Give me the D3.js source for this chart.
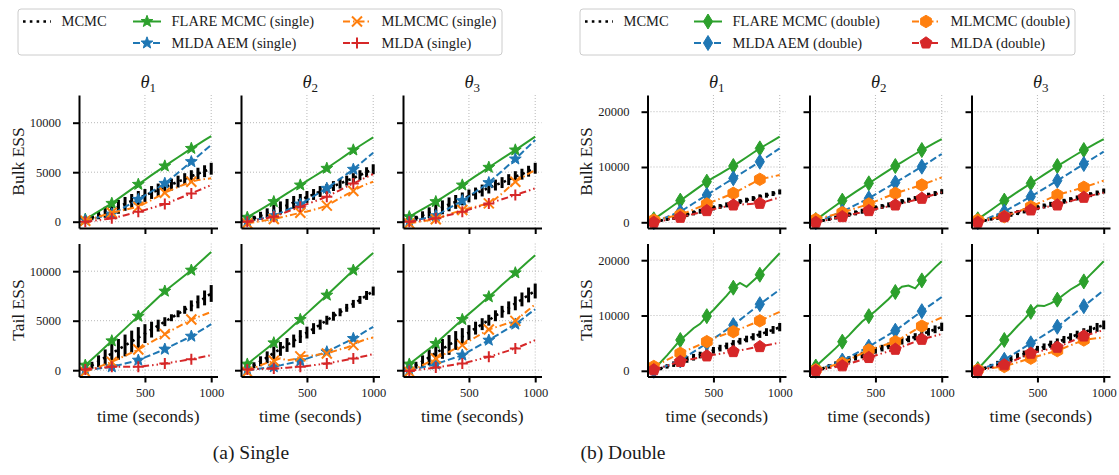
<!DOCTYPE html>
<html>
<head>
<meta charset="utf-8">
<script src="https://cdn.jsdelivr.net/npm/d3@7"></script>
<style>
body { margin: 0; background: #fff; }
svg { display: block; }
text { font-family: "Liberation Serif", "DejaVu Serif", serif; fill: #1a1a1a; }
</style>
</head>
<body>
<svg id="chart" width="1119" height="475" font-family="Liberation Serif, DejaVu Serif, serif"></svg>
<script>
var times = [50, 100, 150, 200, 250, 300, 350, 400, 450, 500, 550, 600, 650, 700, 750, 800, 850, 900, 950, 1000];
var markerTimes = [50, 250, 450, 650, 850];
var thetaLabels = ["1", "2", "3"];
var xTicks = [500, 1000];
var singleYTicks = [0, 5000, 10000];
var doubleYTicks = [0, 10000, 20000];
var rowNames = ["Bulk ESS", "Tail ESS"];
var methodNames = ["MCMC", "FLARE MCMC", "MLDA AEM", "MLMCMC", "MLDA"];
var captions = ["(a) Single", "(b) Double"];

// ---- single precision, bulk ESS (one row per theta) ----
var mcmcSingleBulk = [
    [150, 400, 650, 950, 1250, 1500, 1800, 2100, 2400, 2650, 2950, 3200, 3500, 3750, 4050, 4300, 4600, 4850, 5100, 5350],
    [100, 350, 600, 850, 1100, 1400, 1650, 1950, 2200, 2500, 2750, 3050, 3300, 3600, 3850, 4150, 4400, 4700, 5000, 5300],
    [100, 350, 650, 900, 1200, 1450, 1750, 2000, 2300, 2600, 2850, 3150, 3400, 3700, 3950, 4250, 4550, 4800, 5100, 5400]];
var mcmcErrSingleBulk = [
    [100, 250, 400, 550, 650, 700, 700, 700, 700, 650, 650, 650, 600, 600, 600, 600, 600, 600, 600, 600],
    [100, 250, 400, 500, 600, 650, 650, 650, 600, 600, 550, 550, 500, 500, 500, 500, 500, 500, 500, 500],
    [100, 250, 400, 550, 650, 700, 700, 700, 650, 650, 600, 600, 550, 550, 550, 550, 550, 550, 550, 550]];
var flareSingleBulk = [
    [240, 640, 1050, 1450, 1850, 2330, 2810, 3290, 3770, 4230, 4700, 5160, 5620, 6060, 6510, 6950, 7400, 7820, 8240, 8650],
    [440, 830, 1230, 1620, 2020, 2440, 2860, 3280, 3700, 4120, 4540, 4960, 5390, 5850, 6310, 6770, 7240, 7670, 8100, 8520],
    [500, 880, 1260, 1640, 2020, 2440, 2860, 3280, 3700, 4150, 4600, 5040, 5490, 5930, 6370, 6800, 7240, 7690, 8140, 8590]];
var aemSingleBulk = [
    [170, 300, 450, 600, 770, 1130, 1500, 1870, 2250, 2650, 3050, 3450, 3870, 4400, 4950, 5500, 6060, 6620, 7180, 7740],
    [0, 150, 300, 450, 600, 890, 1180, 1480, 1780, 2170, 2570, 2970, 3370, 3850, 4320, 4800, 5290, 5850, 6410, 6970],
    [0, 150, 300, 450, 600, 980, 1360, 1740, 2120, 2570, 3030, 3480, 3940, 4540, 5130, 5730, 6330, 6970, 7610, 8250]];
var mlmcmcSingleBulk = [
    [100, 300, 500, 700, 900, 1050, 1200, 1350, 1500, 1850, 2200, 2550, 2930, 3220, 3500, 3780, 4040, 4200, 4300, 4380],
    [-170, -60, 50, 160, 270, 420, 580, 740, 900, 1040, 1200, 1400, 1620, 2000, 2400, 2750, 3100, 3500, 3800, 4040],
    [-170, -50, 60, 150, 240, 500, 750, 970, 1180, 1350, 1520, 1690, 1850, 2300, 2850, 3450, 4040, 4450, 4850, 5220]];
var mldaSingleBulk = [
    [0, 80, 170, 250, 340, 500, 660, 830, 1000, 1190, 1390, 1580, 1780, 2050, 2320, 2590, 2860, 3140, 3420, 3700],
    [0, 120, 250, 380, 500, 750, 1000, 1260, 1520, 1770, 2020, 2270, 2530, 2870, 3200, 3540, 3870, 4180, 4500, 4810],
    [0, 80, 170, 250, 340, 500, 670, 840, 1010, 1220, 1420, 1630, 1850, 2060, 2270, 2480, 2690, 2920, 3140, 3370]];

// ---- single precision, tail ESS ----
var mcmcSingleTail = [
    [150, 500, 900, 1300, 1700, 2100, 2500, 2900, 3300, 3700, 4100, 4500, 4900, 5300, 5700, 6100, 6500, 6900, 7300, 7750],
    [100, 500, 900, 1300, 1750, 2150, 2550, 2950, 3400, 3800, 4200, 4600, 5050, 5450, 5850, 6300, 6700, 7100, 7550, 8000],
    [100, 500, 900, 1300, 1750, 2150, 2550, 3000, 3400, 3800, 4250, 4650, 5050, 5500, 5900, 6300, 6750, 7150, 7600, 8000]];
var mcmcErrSingleTail = [
    [100, 350, 600, 800, 950, 1050, 1100, 1100, 1050, 950, 800, 600, 450, 350, 350, 400, 550, 650, 750, 850],
    [100, 300, 500, 600, 650, 700, 700, 650, 650, 600, 550, 500, 450, 450, 400, 400, 400, 400, 450, 450],
    [100, 350, 600, 800, 950, 1000, 1000, 950, 850, 750, 650, 600, 550, 550, 600, 650, 700, 700, 750, 750]];
var flareSingleTail = [
    [500, 1110, 1720, 2340, 2960, 3580, 4200, 4830, 5450, 6080, 6710, 7340, 7980, 8510, 9040, 9570, 10100, 10720, 11340, 11950],
    [610, 1150, 1680, 2220, 2760, 3350, 3940, 4530, 5120, 5740, 6350, 6970, 7580, 8210, 8840, 9470, 10100, 10680, 11270, 11850],
    [610, 1130, 1650, 2170, 2690, 3300, 3900, 4510, 5120, 5690, 6260, 6840, 7410, 8010, 8620, 9220, 9830, 10430, 11020, 11620]];
var aemSingleTail = [
    [0, 80, 170, 250, 340, 500, 670, 840, 1010, 1290, 1570, 1840, 2120, 2450, 2780, 3100, 3430, 3840, 4240, 4650],
    [0, 80, 170, 250, 340, 490, 640, 790, 940, 1170, 1400, 1620, 1850, 2190, 2530, 2860, 3200, 3590, 3990, 4380],
    [0, 150, 300, 460, 610, 840, 1070, 1290, 1520, 1900, 2280, 2650, 3030, 3440, 3840, 4250, 4650, 5150, 5660, 6160]];
var mlmcmcSingleTail = [
    [-170, 80, 330, 590, 840, 1150, 1460, 1780, 2090, 2480, 2870, 3250, 3640, 4010, 4380, 4750, 5120, 5370, 5630, 5890],
    [-170, 200, 500, 750, 950, 1200, 1000, 1100, 1400, 1450, 1500, 1600, 1680, 1900, 2100, 2300, 2530, 2900, 3150, 3300],
    [-170, 150, 500, 850, 1180, 1520, 1850, 2200, 2530, 2930, 3330, 3720, 4110, 4330, 4550, 4770, 4980, 5550, 6100, 6670]];
var mldaSingleTail = [
    [70, 140, 210, 280, 340, 340, 340, 340, 340, 420, 500, 580, 670, 780, 890, 1000, 1110, 1250, 1380, 1520],
    [70, 100, 120, 150, 170, 210, 250, 300, 340, 420, 510, 590, 670, 800, 920, 1050, 1180, 1330, 1470, 1620],
    [-70, 10, 100, 180, 270, 370, 470, 570, 670, 840, 1010, 1180, 1350, 1560, 1770, 1980, 2190, 2470, 2750, 3030]];

// ---- double precision, bulk ESS ----
var mcmcDoubleBulk = [
    [0, 300, 550, 850, 1150, 1400, 1700, 2000, 2300, 2600, 2850, 3150, 3450, 3750, 4000, 4300, 4600, 4900, 5200, 5500],
    [0, 300, 550, 850, 1150, 1400, 1700, 2000, 2300, 2600, 2850, 3150, 3450, 3750, 4000, 4300, 4600, 4900, 5200, 5550],
    [0, 300, 600, 850, 1150, 1450, 1750, 2050, 2350, 2650, 2950, 3250, 3500, 3800, 4100, 4400, 4700, 5000, 5300, 5650]];
var mcmcErrDoubleBulk = [
    [50, 200, 300, 400, 400, 450, 450, 450, 450, 450, 450, 450, 450, 450, 450, 450, 450, 450, 450, 450],
    [50, 200, 300, 350, 400, 400, 450, 450, 450, 450, 450, 450, 450, 450, 450, 450, 450, 450, 450, 450],
    [50, 200, 300, 400, 400, 450, 450, 450, 450, 450, 450, 450, 450, 450, 450, 450, 450, 450, 450, 450]];
var flareDoubleBulk = [
    [540, 1390, 2230, 3080, 3920, 4780, 5640, 6490, 7350, 8060, 8770, 9470, 10180, 10980, 11770, 12570, 13370, 14070, 14780, 15480],
    [420, 1300, 2170, 3050, 3920, 4700, 5490, 6270, 7050, 7830, 8620, 9400, 10180, 10900, 11630, 12350, 13070, 13730, 14400, 15060],
    [540, 1390, 2230, 3080, 3920, 4700, 5490, 6270, 7050, 7830, 8620, 9400, 10180, 10900, 11630, 12350, 13070, 13730, 14400, 15060]];
var aemDoubleBulk = [
    [0, 480, 970, 1450, 1930, 2680, 3440, 4190, 4940, 5690, 6450, 7200, 7950, 8700, 9460, 10210, 10960, 11760, 12570, 13370],
    [0, 480, 970, 1450, 1930, 2530, 3140, 3740, 4340, 5050, 5760, 6460, 7170, 7890, 8610, 9340, 10060, 10820, 11590, 12350],
    [0, 480, 970, 1450, 1930, 2610, 3290, 3960, 4640, 5360, 6090, 6810, 7530, 8280, 9030, 9790, 10540, 11280, 12030, 12770]];
var mlmcmcDoubleBulk = [
    [420, 650, 880, 1100, 1330, 1830, 2320, 2820, 3310, 3790, 4270, 4760, 5240, 5870, 6510, 7140, 7770, 8030, 8290, 8550],
    [540, 840, 1150, 1450, 1750, 2140, 2530, 2920, 3310, 3790, 4270, 4760, 5240, 5620, 6000, 6370, 6750, 7210, 7670, 8130],
    [420, 570, 720, 870, 1020, 1470, 1930, 2380, 2830, 3360, 3880, 4410, 4940, 5290, 5630, 5980, 6330, 6730, 7130, 7530]];
var mldaDoubleBulk = [
    [0, 230, 450, 680, 900, 1200, 1500, 1810, 2110, 2370, 2620, 2880, 3130, 3210, 3280, 3360, 3430, 3790, 4160, 4520],
    [0, 260, 510, 770, 1020, 1290, 1570, 1840, 2110, 2370, 2620, 2880, 3130, 3430, 3740, 4040, 4340, 4700, 5060, 5420],
    [0, 260, 510, 770, 1020, 1550, 1970, 2100, 2230, 2460, 2680, 2910, 3130, 3480, 3830, 4170, 4520, 4800, 5080, 5360]];

// ---- double precision, tail ESS ----
var mcmcDoubleTail = [
    [0, 400, 800, 1200, 1650, 2050, 2450, 2850, 3300, 3700, 4100, 4500, 4950, 5350, 5750, 6150, 6600, 7000, 7400, 7900],
    [0, 400, 800, 1200, 1650, 2050, 2450, 2850, 3300, 3700, 4100, 4500, 4950, 5350, 5750, 6150, 6600, 7050, 7500, 7950],
    [0, 450, 850, 1300, 1750, 2150, 2600, 3050, 3450, 3900, 4350, 4800, 5200, 5650, 6100, 6550, 6950, 7400, 7850, 8300]];
var mcmcErrDoubleTail = [
    [100, 300, 400, 500, 550, 600, 600, 600, 600, 600, 600, 600, 600, 600, 600, 650, 650, 700, 700, 750],
    [100, 300, 400, 500, 550, 600, 600, 600, 600, 600, 600, 600, 600, 600, 600, 650, 650, 700, 700, 750],
    [100, 300, 400, 500, 550, 600, 600, 600, 600, 600, 600, 650, 650, 650, 700, 700, 750, 750, 800, 800]];
var flareDoubleTail = [
    [300, 1500, 2800, 4200, 5570, 6600, 7700, 8500, 9880, 11000, 12300, 13600, 15030, 15900, 15200, 16300, 17370, 18700, 20000, 21260],
    [780, 1900, 3000, 4100, 5270, 6400, 7700, 8900, 9880, 10800, 11900, 13000, 14250, 15200, 15400, 14900, 16350, 17500, 18700, 19820],
    [300, 1600, 2900, 4200, 5570, 6800, 8100, 9300, 10660, 11800, 11700, 12200, 12870, 13800, 14700, 15400, 16170, 17400, 18600, 19820]];
var aemDoubleTail = [
    [0, 470, 930, 1400, 1860, 2640, 3420, 4190, 4970, 5790, 6610, 7440, 8260, 9210, 10150, 11100, 12040, 12920, 13790, 14670],
    [0, 470, 930, 1400, 1860, 2490, 3110, 3740, 4370, 5090, 5810, 6530, 7250, 8130, 9020, 9900, 10780, 11640, 12490, 13350],
    [0, 500, 990, 1490, 1980, 2730, 3480, 4220, 4970, 5720, 6460, 7210, 7960, 8890, 9820, 10750, 11680, 12640, 13590, 14550]];
var mlmcmcDoubleTail = [
    [780, 1380, 1980, 2570, 3170, 3700, 4220, 4750, 5270, 5900, 6300, 6700, 7070, 7560, 8060, 8550, 9040, 9580, 10120, 10660],
    [180, 480, 780, 1080, 1380, 1980, 2580, 3170, 3770, 4150, 4520, 4900, 5270, 5970, 6680, 7380, 8080, 8600, 9120, 9640],
    [180, 330, 480, 630, 780, 1160, 1530, 1910, 2280, 2620, 2970, 3310, 3650, 4130, 4610, 5090, 5570, 5730, 5890, 6050]];
var mldaDoubleTail = [
    [180, 560, 930, 1310, 1680, 1930, 2190, 2440, 2690, 2890, 3080, 3280, 3470, 3700, 3920, 4150, 4370, 4610, 4850, 5090],
    [0, 230, 450, 680, 900, 1280, 1650, 2030, 2400, 2770, 3150, 3520, 3890, 4340, 4790, 5240, 5690, 6010, 6330, 6650],
    [0, 270, 540, 810, 1080, 1600, 2130, 2650, 3170, 3440, 3710, 3980, 4250, 4760, 5270, 5780, 6290, 6650, 7010, 7370]];

// styles for FLARE, AEM, MLMCMC, MLDA
var colors = ["#2ca02c", "#1f77b4", "#ff7f0e", "#d62728"];
var dashes = [null, "7,3", "7,3,1.5,3", "7,3,1.5,3,1.5,3"];

var svg = d3.select("#chart");
var panelW = 138.5, panelH = 133;
var rowTop = [95, 243.5];
var serif = "'Liberation Serif', 'DejaVu Serif', serif";

var groups = [{
    lefts: [79, 241, 403],
    ylabX: 18,
    yDomain: [-636, 12798],
    yTicks: singleYTicks,
    markers: ["star", "star", "x", "plus"],
    suffix: " (single)",
    legend: { x: 18, w: 484, cols: [23, 133, 343] },
    caption: { x: 251 },
    rows: [
        { mcmc: mcmcSingleBulk, err: mcmcErrSingleBulk, lines: [flareSingleBulk, aemSingleBulk, mlmcmcSingleBulk, mldaSingleBulk] },
        { mcmc: mcmcSingleTail, err: mcmcErrSingleTail, lines: [flareSingleTail, aemSingleTail, mlmcmcSingleTail, mldaSingleTail] }
    ]
}, {
    lefts: [647.5, 809.5, 971.5],
    ylabX: 586,
    yDomain: [-1031, 23020],
    yTicks: doubleYTicks,
    markers: ["thinDiamond", "thinDiamond", "hexagon", "pentagon"],
    suffix: " (double)",
    legend: { x: 580, w: 495, cols: [585, 694, 912] },
    caption: { x: 623 },
    rows: [
        { mcmc: mcmcDoubleBulk, err: mcmcErrDoubleBulk, lines: [flareDoubleBulk, aemDoubleBulk, mlmcmcDoubleBulk, mldaDoubleBulk] },
        { mcmc: mcmcDoubleTail, err: mcmcErrDoubleTail, lines: [flareDoubleTail, aemDoubleTail, mlmcmcDoubleTail, mldaDoubleTail] }
    ]
}];

function polygon(n, r, rot) {
    var pts = [];
    for (var i = 0; i < n; i++) {
        var a = rot + i * 2 * Math.PI / n;
        pts.push([r * Math.cos(a), r * Math.sin(a)]);
    }
    return "M" + pts.join("L") + "Z";
}

function markerPath(kind) {
    if (kind == "star") {
        var pts = [];
        for (var i = 0; i < 10; i++) {
            var r = i % 2 ? 2.6 : 6.2;
            var a = -Math.PI / 2 + i * Math.PI / 5;
            pts.push([r * Math.cos(a), r * Math.sin(a)]);
        }
        return "M" + pts.join("L") + "Z";
    }
    if (kind == "thinDiamond") return "M0,-7.5L4.6,0L0,7.5L-4.6,0Z";
    if (kind == "x") return "M-5,-5L5,5M-5,5L5,-5";
    if (kind == "plus") return "M-5.5,0L5.5,0M0,-5.5L0,5.5";
    if (kind == "hexagon") return polygon(6, 6.2, -Math.PI / 2);
    if (kind == "pentagon") return polygon(5, 6.2, -Math.PI / 2);
}

function drawMarker(g, kind, color, cx, cy) {
    var stroked = (kind == "x" || kind == "plus");
    g.append("path")
        .attr("d", markerPath(kind))
        .attr("transform", "translate(" + cx + "," + cy + ")")
        .attr("fill", stroked ? "none" : color)
        .attr("stroke", color)
        .attr("stroke-width", stroked ? 2 : 1)
        .attr("stroke-linejoin", "miter");
}

var x = d3.scaleLinear().domain([2.5, 1047.5]).range([0, panelW]);

groups.forEach(function(grp, gi) {
    var y = d3.scaleLinear().domain(grp.yDomain).range([panelH, 0]);

    grp.rows.forEach(function(row, r) {
        // row label
        svg.append("text")
            .attr("transform", "translate(" + grp.ylabX + "," + (rowTop[r] + panelH / 2) + ") rotate(-90)")
            .attr("text-anchor", "middle")
            .attr("dy", "0.35em")
            .attr("font-size", 17.5)
            .text(rowNames[r]);

        for (var c = 0; c < 3; c++) {
            var g = svg.append("g").attr("transform", "translate(" + grp.lefts[c] + "," + rowTop[r] + ")");

            // grid
            g.selectAll(".gx").data(xTicks).enter().append("line")
                .attr("x1", function(d) { return x(d); }).attr("x2", function(d) { return x(d); })
                .attr("y1", 0).attr("y2", panelH)
                .attr("stroke", "#b0b0b0").attr("stroke-width", 0.9).attr("stroke-dasharray", "1,2");
            g.selectAll(".gy").data(grp.yTicks).enter().append("line")
                .attr("y1", function(d) { return y(d); }).attr("y2", function(d) { return y(d); })
                .attr("x1", 0).attr("x2", panelW)
                .attr("stroke", "#b0b0b0").attr("stroke-width", 0.9).attr("stroke-dasharray", "1,2");

            // MCMC error bars + dotted mean
            var mean = row.mcmc[c], err = row.err[c];
            g.selectAll(".eb").data(times).enter().append("line")
                .attr("x1", function(d) { return x(d); }).attr("x2", function(d) { return x(d); })
                .attr("y1", function(d, i) { return y(mean[i] - err[i]); })
                .attr("y2", function(d, i) { return y(mean[i] + err[i]); })
                .attr("stroke", "#000").attr("stroke-width", 3);
            g.append("path")
                .attr("d", d3.line().x(function(d) { return x(d); }).y(function(d, i) { return y(mean[i]); })(times))
                .attr("fill", "none").attr("stroke", "#000").attr("stroke-width", 2.6)
                .attr("stroke-dasharray", "2.6,4.2");

            // methods
            row.lines.forEach(function(vals, m) {
                var v = vals[c];
                var p = g.append("path")
                    .attr("d", d3.line().x(function(d) { return x(d); }).y(function(d, i) { return y(v[i]); })(times))
                    .attr("fill", "none").attr("stroke", colors[m]).attr("stroke-width", 2);
                if (dashes[m]) p.attr("stroke-dasharray", dashes[m]);
                markerTimes.forEach(function(t) {
                    var i = times.indexOf(t);
                    drawMarker(g, grp.markers[m], colors[m], x(t), y(v[i]));
                });
            });

            // axes
            var ay = g.append("g").call(d3.axisLeft(y).tickValues(grp.yTicks).tickSize(6).tickSizeOuter(0).tickPadding(12)
                .tickFormat(c == 0 ? d3.format("d") : function() { return ""; }));
            var ax = g.append("g").attr("transform", "translate(0," + panelH + ")")
                .call(d3.axisBottom(x).tickValues(xTicks).tickSize(6).tickSizeOuter(0).tickPadding(6)
                    .tickFormat(r == 1 ? d3.format("d") : function() { return ""; }));
            [ay, ax].forEach(function(a) {
                a.attr("font-family", serif).attr("font-size", 12.5);
                a.select(".domain").attr("stroke", "#000").attr("stroke-width", 2);
                a.selectAll(".tick line").attr("stroke", "#000").attr("stroke-width", 2);
                a.selectAll(".tick text").attr("fill", "#1a1a1a");
            });

            // titles / x labels
            if (r == 0) {
                var tt = svg.append("text")
                    .attr("x", grp.lefts[c] + panelW / 2).attr("y", 88)
                    .attr("text-anchor", "middle").attr("font-size", 18.5);
                tt.append("tspan").attr("font-style", "italic").text("\u03b8");
                tt.append("tspan").attr("dy", 4).attr("font-size", 13).text(thetaLabels[c]);
            } else {
                svg.append("text")
                    .attr("x", grp.lefts[c] + x(525)).attr("y", 422)
                    .attr("text-anchor", "middle").attr("font-size", 17.5)
                    .text("time (seconds)");
            }
        }
    });

    // legend
    var L = grp.legend;
    svg.append("rect").attr("x", L.x).attr("y", 9).attr("width", L.w).attr("height", 46)
        .attr("rx", 3).attr("fill", "#fff").attr("stroke", "#cccccc").attr("stroke-width", 1);
    var slots = [[0, 0], [1, 0], [1, 1], [2, 0], [2, 1]];
    methodNames.forEach(function(name, k) {
        var hx = L.cols[slots[k][0]], hy = slots[k][1] == 0 ? 21.5 : 43;
        var lg = svg.append("g");
        if (k == 0) {
            lg.append("line").attr("x1", hx).attr("x2", hx + 28).attr("y1", hy).attr("y2", hy)
                .attr("stroke", "#000").attr("stroke-width", 2.6).attr("stroke-dasharray", "2.6,4.2");
        } else {
            var m = k - 1;
            var ln = lg.append("line").attr("x1", hx).attr("x2", hx + 28).attr("y1", hy).attr("y2", hy)
                .attr("stroke", colors[m]).attr("stroke-width", 2);
            if (dashes[m]) ln.attr("stroke-dasharray", dashes[m]);
            drawMarker(lg, grp.markers[m], colors[m], hx + 14, hy);
        }
        svg.append("text").attr("x", hx + 38.5).attr("y", hy).attr("dy", "0.33em")
            .attr("font-size", 14.5).text(k == 0 ? name : name + grp.suffix);
    });

    svg.append("text").attr("x", grp.caption.x).attr("y", 459)
        .attr("text-anchor", "middle").attr("font-size", 19.5).text(captions[gi]);
});
</script>
</body>
</html>
